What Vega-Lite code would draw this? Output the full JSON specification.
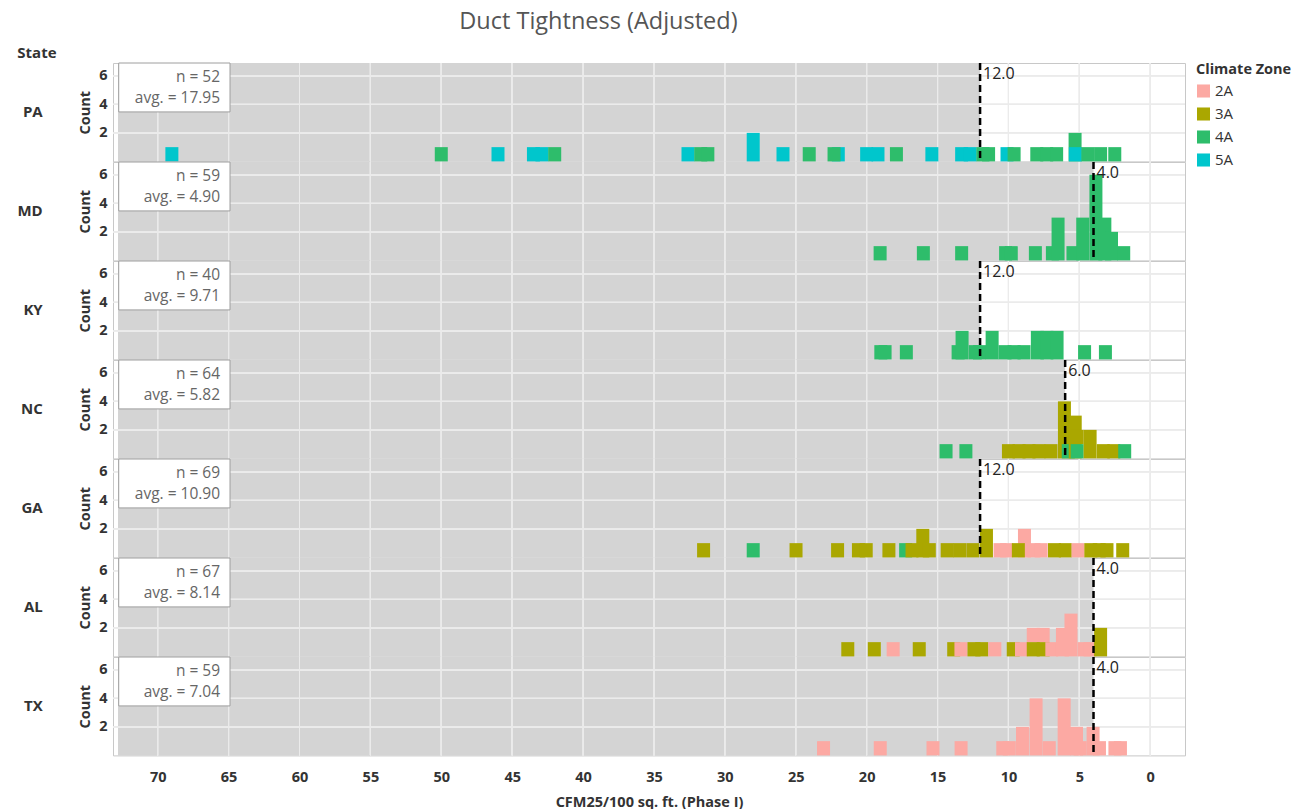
{
  "$schema": "https://vega.github.io/schema/vega-lite/v6.json",
  "padding": {"left": 16, "top": 10, "right": 0, "bottom": 4},
  "background": "white",
  "bounds": "flush",
  "title": {"text": "Duct Tightness (Adjusted)", "fontSize": 23.5, "font": "Open Sans", "fontWeight": "normal", "color": "#555555", "anchor": "middle", "offset": 12, "dx": -56},
  "data": {"values": [
    {"k":"s","State":"PA","nlab":"n = 52","alab":"avg. = 17.95","Threshold":12,"xt":[0,5,10,15,20,25,30,35,40,45,50,55,60,65,70],"yt":[2,4,6]},
    {"k":"s","State":"MD","nlab":"n = 59","alab":"avg. = 4.90","Threshold":4,"xt":[0,5,10,15,20,25,30,35,40,45,50,55,60,65,70],"yt":[2,4,6]},
    {"k":"s","State":"KY","nlab":"n = 40","alab":"avg. = 9.71","Threshold":12,"xt":[0,5,10,15,20,25,30,35,40,45,50,55,60,65,70],"yt":[2,4,6]},
    {"k":"s","State":"NC","nlab":"n = 64","alab":"avg. = 5.82","Threshold":6,"xt":[0,5,10,15,20,25,30,35,40,45,50,55,60,65,70],"yt":[2,4,6]},
    {"k":"s","State":"GA","nlab":"n = 69","alab":"avg. = 10.90","Threshold":12,"xt":[0,5,10,15,20,25,30,35,40,45,50,55,60,65,70],"yt":[2,4,6]},
    {"k":"s","State":"AL","nlab":"n = 67","alab":"avg. = 8.14","Threshold":4,"xt":[0,5,10,15,20,25,30,35,40,45,50,55,60,65,70],"yt":[2,4,6]},
    {"k":"s","State":"TX","nlab":"n = 59","alab":"avg. = 7.04","Threshold":4,"xt":[0,5,10,15,20,25,30,35,40,45,50,55,60,65,70],"yt":[2,4,6]},

    {"k":"b","State":"PA","Zone":"5A","CFM":69.0,"Count":1},
    {"k":"b","State":"PA","Zone":"4A","CFM":50.0,"Count":1},
    {"k":"b","State":"PA","Zone":"5A","CFM":46.0,"Count":1},
    {"k":"b","State":"PA","Zone":"5A","CFM":43.5,"Count":1},
    {"k":"b","State":"PA","Zone":"5A","CFM":42.9,"Count":1},
    {"k":"b","State":"PA","Zone":"4A","CFM":42.0,"Count":1},
    {"k":"b","State":"PA","Zone":"5A","CFM":32.6,"Count":1},
    {"k":"b","State":"PA","Zone":"4A","CFM":31.7,"Count":1},
    {"k":"b","State":"PA","Zone":"4A","CFM":31.2,"Count":1},
    {"k":"b","State":"PA","Zone":"5A","CFM":28.0,"Count":2},
    {"k":"b","State":"PA","Zone":"5A","CFM":25.9,"Count":1},
    {"k":"b","State":"PA","Zone":"4A","CFM":24.05,"Count":1},
    {"k":"b","State":"PA","Zone":"5A","CFM":22.0,"Count":1},
    {"k":"b","State":"PA","Zone":"4A","CFM":22.3,"Count":1},
    {"k":"b","State":"PA","Zone":"5A","CFM":20.0,"Count":1},
    {"k":"b","State":"PA","Zone":"5A","CFM":19.2,"Count":1},
    {"k":"b","State":"PA","Zone":"4A","CFM":17.9,"Count":1},
    {"k":"b","State":"PA","Zone":"5A","CFM":15.4,"Count":1},
    {"k":"b","State":"PA","Zone":"5A","CFM":13.3,"Count":1},
    {"k":"b","State":"PA","Zone":"5A","CFM":12.7,"Count":1},
    {"k":"b","State":"PA","Zone":"4A","CFM":11.8,"Count":1},
    {"k":"b","State":"PA","Zone":"4A","CFM":11.4,"Count":1},
    {"k":"b","State":"PA","Zone":"5A","CFM":10.1,"Count":1},
    {"k":"b","State":"PA","Zone":"4A","CFM":9.6,"Count":1},
    {"k":"b","State":"PA","Zone":"4A","CFM":8.0,"Count":1},
    {"k":"b","State":"PA","Zone":"4A","CFM":7.3,"Count":1},
    {"k":"b","State":"PA","Zone":"4A","CFM":6.6,"Count":1},
    {"k":"b","State":"PA","Zone":"4A","CFM":5.3,"Count":2},
    {"k":"b","State":"PA","Zone":"5A","CFM":5.28,"Count":1},
    {"k":"b","State":"PA","Zone":"4A","CFM":4.4,"Count":1},
    {"k":"b","State":"PA","Zone":"4A","CFM":3.5,"Count":1},
    {"k":"b","State":"PA","Zone":"4A","CFM":2.5,"Count":1},

    {"k":"b","State":"MD","Zone":"4A","CFM":19.05,"Count":1},
    {"k":"b","State":"MD","Zone":"4A","CFM":16.0,"Count":1},
    {"k":"b","State":"MD","Zone":"4A","CFM":13.3,"Count":1},
    {"k":"b","State":"MD","Zone":"4A","CFM":10.2,"Count":1},
    {"k":"b","State":"MD","Zone":"4A","CFM":9.8,"Count":1},
    {"k":"b","State":"MD","Zone":"4A","CFM":8.1,"Count":1},
    {"k":"b","State":"MD","Zone":"4A","CFM":6.9,"Count":1},
    {"k":"b","State":"MD","Zone":"4A","CFM":6.5,"Count":3},
    {"k":"b","State":"MD","Zone":"4A","CFM":5.45,"Count":1},
    {"k":"b","State":"MD","Zone":"4A","CFM":4.76,"Count":3},
    {"k":"b","State":"MD","Zone":"4A","CFM":3.83,"Count":6},
    {"k":"b","State":"MD","Zone":"4A","CFM":3.2,"Count":3},
    {"k":"b","State":"MD","Zone":"4A","CFM":2.73,"Count":2},
    {"k":"b","State":"MD","Zone":"4A","CFM":1.87,"Count":1},

    {"k":"b","State":"KY","Zone":"4A","CFM":19.0,"Count":1},
    {"k":"b","State":"KY","Zone":"4A","CFM":18.7,"Count":1},
    {"k":"b","State":"KY","Zone":"4A","CFM":17.2,"Count":1},
    {"k":"b","State":"KY","Zone":"4A","CFM":13.55,"Count":1},
    {"k":"b","State":"KY","Zone":"4A","CFM":13.27,"Count":2},
    {"k":"b","State":"KY","Zone":"4A","CFM":12.34,"Count":1},
    {"k":"b","State":"KY","Zone":"4A","CFM":12.04,"Count":1},
    {"k":"b","State":"KY","Zone":"4A","CFM":11.15,"Count":2},
    {"k":"b","State":"KY","Zone":"4A","CFM":10.24,"Count":1},
    {"k":"b","State":"KY","Zone":"4A","CFM":9.6,"Count":1},
    {"k":"b","State":"KY","Zone":"4A","CFM":8.9,"Count":1},
    {"k":"b","State":"KY","Zone":"4A","CFM":7.96,"Count":2},
    {"k":"b","State":"KY","Zone":"4A","CFM":7.29,"Count":2},
    {"k":"b","State":"KY","Zone":"4A","CFM":6.57,"Count":2},
    {"k":"b","State":"KY","Zone":"4A","CFM":4.63,"Count":1},
    {"k":"b","State":"KY","Zone":"4A","CFM":3.16,"Count":1},

    {"k":"b","State":"NC","Zone":"4A","CFM":14.4,"Count":1},
    {"k":"b","State":"NC","Zone":"4A","CFM":13.0,"Count":1},
    {"k":"b","State":"NC","Zone":"3A","CFM":10.0,"Count":1},
    {"k":"b","State":"NC","Zone":"3A","CFM":9.25,"Count":1},
    {"k":"b","State":"NC","Zone":"3A","CFM":8.55,"Count":1},
    {"k":"b","State":"NC","Zone":"3A","CFM":7.85,"Count":1},
    {"k":"b","State":"NC","Zone":"3A","CFM":7.0,"Count":1},
    {"k":"b","State":"NC","Zone":"3A","CFM":6.05,"Count":4},
    {"k":"b","State":"NC","Zone":"4A","CFM":5.78,"Count":1},
    {"k":"b","State":"NC","Zone":"3A","CFM":5.29,"Count":3},
    {"k":"b","State":"NC","Zone":"3A","CFM":5.15,"Count":1},
    {"k":"b","State":"NC","Zone":"4A","CFM":5.15,"Count":1},
    {"k":"b","State":"NC","Zone":"3A","CFM":4.24,"Count":2},
    {"k":"b","State":"NC","Zone":"3A","CFM":3.31,"Count":1},
    {"k":"b","State":"NC","Zone":"3A","CFM":2.57,"Count":1},
    {"k":"b","State":"NC","Zone":"4A","CFM":1.8,"Count":1},

    {"k":"b","State":"GA","Zone":"3A","CFM":31.5,"Count":1},
    {"k":"b","State":"GA","Zone":"4A","CFM":28.0,"Count":1},
    {"k":"b","State":"GA","Zone":"3A","CFM":24.98,"Count":1},
    {"k":"b","State":"GA","Zone":"3A","CFM":22.05,"Count":1},
    {"k":"b","State":"GA","Zone":"3A","CFM":20.58,"Count":1},
    {"k":"b","State":"GA","Zone":"3A","CFM":20.03,"Count":1},
    {"k":"b","State":"GA","Zone":"3A","CFM":18.43,"Count":1},
    {"k":"b","State":"GA","Zone":"4A","CFM":17.25,"Count":1},
    {"k":"b","State":"GA","Zone":"3A","CFM":16.8,"Count":1},
    {"k":"b","State":"GA","Zone":"3A","CFM":16.04,"Count":2},
    {"k":"b","State":"GA","Zone":"3A","CFM":15.58,"Count":1},
    {"k":"b","State":"GA","Zone":"3A","CFM":14.32,"Count":1},
    {"k":"b","State":"GA","Zone":"3A","CFM":13.44,"Count":1},
    {"k":"b","State":"GA","Zone":"3A","CFM":12.51,"Count":1},
    {"k":"b","State":"GA","Zone":"3A","CFM":11.55,"Count":2},
    {"k":"b","State":"GA","Zone":"2A","CFM":10.59,"Count":1},
    {"k":"b","State":"GA","Zone":"2A","CFM":10.13,"Count":1},
    {"k":"b","State":"GA","Zone":"2A","CFM":8.87,"Count":2},
    {"k":"b","State":"GA","Zone":"3A","CFM":9.3,"Count":1},
    {"k":"b","State":"GA","Zone":"2A","CFM":8.2,"Count":1},
    {"k":"b","State":"GA","Zone":"2A","CFM":7.69,"Count":1},
    {"k":"b","State":"GA","Zone":"3A","CFM":6.75,"Count":1},
    {"k":"b","State":"GA","Zone":"3A","CFM":5.99,"Count":1},
    {"k":"b","State":"GA","Zone":"2A","CFM":5.09,"Count":1},
    {"k":"b","State":"GA","Zone":"3A","CFM":4.19,"Count":1},
    {"k":"b","State":"GA","Zone":"3A","CFM":3.6,"Count":1},
    {"k":"b","State":"GA","Zone":"3A","CFM":3.05,"Count":1},
    {"k":"b","State":"GA","Zone":"3A","CFM":1.94,"Count":1},

    {"k":"b","State":"AL","Zone":"3A","CFM":21.33,"Count":1},
    {"k":"b","State":"AL","Zone":"3A","CFM":19.46,"Count":1},
    {"k":"b","State":"AL","Zone":"2A","CFM":18.13,"Count":1},
    {"k":"b","State":"AL","Zone":"3A","CFM":16.29,"Count":1},
    {"k":"b","State":"AL","Zone":"3A","CFM":13.86,"Count":1},
    {"k":"b","State":"AL","Zone":"2A","CFM":13.35,"Count":1},
    {"k":"b","State":"AL","Zone":"3A","CFM":12.43,"Count":1},
    {"k":"b","State":"AL","Zone":"3A","CFM":11.88,"Count":1},
    {"k":"b","State":"AL","Zone":"2A","CFM":10.96,"Count":1},
    {"k":"b","State":"AL","Zone":"3A","CFM":9.66,"Count":1},
    {"k":"b","State":"AL","Zone":"2A","CFM":9.08,"Count":1},
    {"k":"b","State":"AL","Zone":"2A","CFM":8.25,"Count":1},
    {"k":"b","State":"AL","Zone":"3A","CFM":8.25,"Count":1},
    {"k":"b","State":"AL","Zone":"2A","CFM":7.55,"Count":1},
    {"k":"b","State":"AL","Zone":"3A","CFM":7.55,"Count":1},
    {"k":"b","State":"AL","Zone":"2A","CFM":6.94,"Count":1},
    {"k":"b","State":"AL","Zone":"2A","CFM":6.19,"Count":2},
    {"k":"b","State":"AL","Zone":"2A","CFM":5.59,"Count":3},
    {"k":"b","State":"AL","Zone":"2A","CFM":4.66,"Count":1},
    {"k":"b","State":"AL","Zone":"2A","CFM":4.24,"Count":1},
    {"k":"b","State":"AL","Zone":"3A","CFM":3.5,"Count":2},

    {"k":"b","State":"TX","Zone":"2A","CFM":23.04,"Count":1},
    {"k":"b","State":"TX","Zone":"2A","CFM":19.04,"Count":1},
    {"k":"b","State":"TX","Zone":"2A","CFM":15.32,"Count":1},
    {"k":"b","State":"TX","Zone":"2A","CFM":13.34,"Count":1},
    {"k":"b","State":"TX","Zone":"2A","CFM":10.4,"Count":1},
    {"k":"b","State":"TX","Zone":"2A","CFM":9.94,"Count":1},
    {"k":"b","State":"TX","Zone":"2A","CFM":9.01,"Count":2},
    {"k":"b","State":"TX","Zone":"2A","CFM":8.05,"Count":4},
    {"k":"b","State":"TX","Zone":"2A","CFM":7.12,"Count":1},
    {"k":"b","State":"TX","Zone":"2A","CFM":6.07,"Count":4},
    {"k":"b","State":"TX","Zone":"2A","CFM":5.2,"Count":2},
    {"k":"b","State":"TX","Zone":"2A","CFM":4.94,"Count":1},
    {"k":"b","State":"TX","Zone":"2A","CFM":4.03,"Count":2},
    {"k":"b","State":"TX","Zone":"2A","CFM":3.58,"Count":1},
    {"k":"b","State":"TX","Zone":"2A","CFM":2.49,"Count":1},
    {"k":"b","State":"TX","Zone":"2A","CFM":2.1,"Count":1}
  ]},
  "facet": {
    "row": {
      "field": "State", "type": "nominal",
      "sort": ["PA","MD","KY","NC","GA","AL","TX"],
      "title": null,
      "header": {
        "labelAngle": 0, "labelAlign": "left", "labelFontSize": 15, "labelFontWeight": "bold", "labelFont": "Open Sans", "labelColor": "#333333", "labelPadding": 35
      }
    }
  },
  "spacing": 0,
  "spec": {
    "width": 1072,
    "height": 98.4,
    "layer": [
      {
        "transform": [{"filter": "datum.k === 's'"}],
        "mark": {"type": "rect", "color": "#d4d4d4"},
        "encoding": {
          "x": {"field": "Threshold", "type": "quantitative", "scale": {"domain": [-2.1, 72.8], "reverse": true, "nice": false, "zero": false},
            "axis": {"title": "CFM25/100 sq. ft. (Phase I)", "values": [0,5,10,15,20,25,30,35,40,45,50,55,60,65,70], "grid": false, "ticks": false, "domain": false, "labelPadding": 14, "titlePadding": 12}},
          "x2": {"datum": 72.8}
        }
      },
      {
        "transform": [{"filter": "datum.k === 's'"}, {"flatten": ["xt"]}],
        "mark": {"type": "rule", "color": "#ebebeb", "strokeWidth": 1},
        "encoding": {"x": {"field": "xt", "type": "quantitative"}}
      },
      {
        "transform": [{"filter": "datum.k === 's'"}, {"flatten": ["yt"]}],
        "mark": {"type": "rule", "color": "#ebebeb", "strokeWidth": 1},
        "encoding": {"y": {"field": "yt", "type": "quantitative", "scale": {"domain": [0, 6.9], "nice": false, "zero": true},
            "axis": {"title": "Count", "values": [2,4,6], "grid": false, "ticks": false, "domain": false, "labelPadding": 6, "titlePadding": 6}}}
      },
      {
        "transform": [{"filter": "datum.k === 'b'"}],
        "mark": {"type": "bar", "size": 13},
        "encoding": {
          "x": {"field": "CFM", "type": "quantitative"},
          "y": {"field": "Count", "type": "quantitative", "stack": "zero"},
          "color": {"field": "Zone", "type": "nominal", "title": "Climate Zone",
            "scale": {"domain": ["2A","3A","4A","5A"], "range": ["#fca9a3","#aaa700","#2ebd6b","#00c6cc"]}}
        }
      },
      {
        "transform": [{"filter": "datum.k === 's'"}],
        "mark": {"type": "rect", "fill": "white", "stroke": "#9e9e9e", "strokeWidth": 1},
        "encoding": {
          "x": {"datum": 72.75, "type": "quantitative"},
          "x2": {"datum": 64.9},
          "y": {"datum": 6.9, "type": "quantitative"},
          "y2": {"datum": 3.47}
        }
      },
      {
        "transform": [{"filter": "datum.k === 's'"}],
        "mark": {"type": "text", "align": "right", "baseline": "middle", "fontSize": 15.5, "font": "Open Sans", "color": "#666666"},
        "encoding": {
          "x": {"datum": 65.6, "type": "quantitative"},
          "y": {"datum": 5.95, "type": "quantitative"},
          "text": {"field": "nlab", "type": "nominal"}
        }
      },
      {
        "transform": [{"filter": "datum.k === 's'"}],
        "mark": {"type": "text", "align": "right", "baseline": "middle", "fontSize": 15.5, "font": "Open Sans", "color": "#666666"},
        "encoding": {
          "x": {"datum": 65.6, "type": "quantitative"},
          "y": {"datum": 4.45, "type": "quantitative"},
          "text": {"field": "alab", "type": "nominal"}
        }
      },
      {
        "transform": [{"filter": "datum.k === 's'"}],
        "mark": {"type": "rule", "color": "#000000", "strokeWidth": 2.5, "strokeDash": [7, 4]},
        "encoding": {"x": {"field": "Threshold", "type": "quantitative"}}
      },
      {
        "transform": [{"filter": "datum.k === 's'"}],
        "mark": {"type": "text", "align": "left", "baseline": "top", "dx": 3, "dy": 3, "fontSize": 16, "font": "Open Sans", "color": "#222222"},
        "encoding": {
          "x": {"field": "Threshold", "type": "quantitative"},
          "y": {"datum": 6.9, "type": "quantitative"},
          "text": {"field": "Threshold", "type": "quantitative", "format": ".1f"}
        }
      },
      {
        "transform": [{"filter": "datum.k === 's' && datum.State === 'PA'"}],
        "mark": {"type": "text", "align": "left", "baseline": "middle", "fontSize": 15, "font": "Open Sans", "fontWeight": "bold", "color": "#333333"},
        "encoding": {
          "x": {"datum": 79.9, "type": "quantitative"},
          "y": {"datum": 7.6, "type": "quantitative"},
          "text": {"value": "State"}
        }
      }
    ]
  },
  "config": {
    "view": {"stroke": "#c8c8c8", "strokeWidth": 1},
    "axis": {"labelFont": "Open Sans", "labelFontSize": 14.5, "labelFontWeight": "bold", "labelColor": "#333333", "titleFont": "Open Sans", "titleFontSize": 14.5, "titleFontWeight": "bold", "titleColor": "#333333"},
    "legend": {"orient": "right", "offset": 10, "titleFont": "Open Sans", "titleFontSize": 14.5, "titleFontWeight": "bold", "titleColor": "#333333", "labelFont": "Open Sans", "labelFontSize": 15, "labelColor": "#333333", "symbolType": "square", "symbolSize": 170, "symbolStrokeWidth": 0, "rowPadding": 7, "titlePadding": 6}
  }
}
